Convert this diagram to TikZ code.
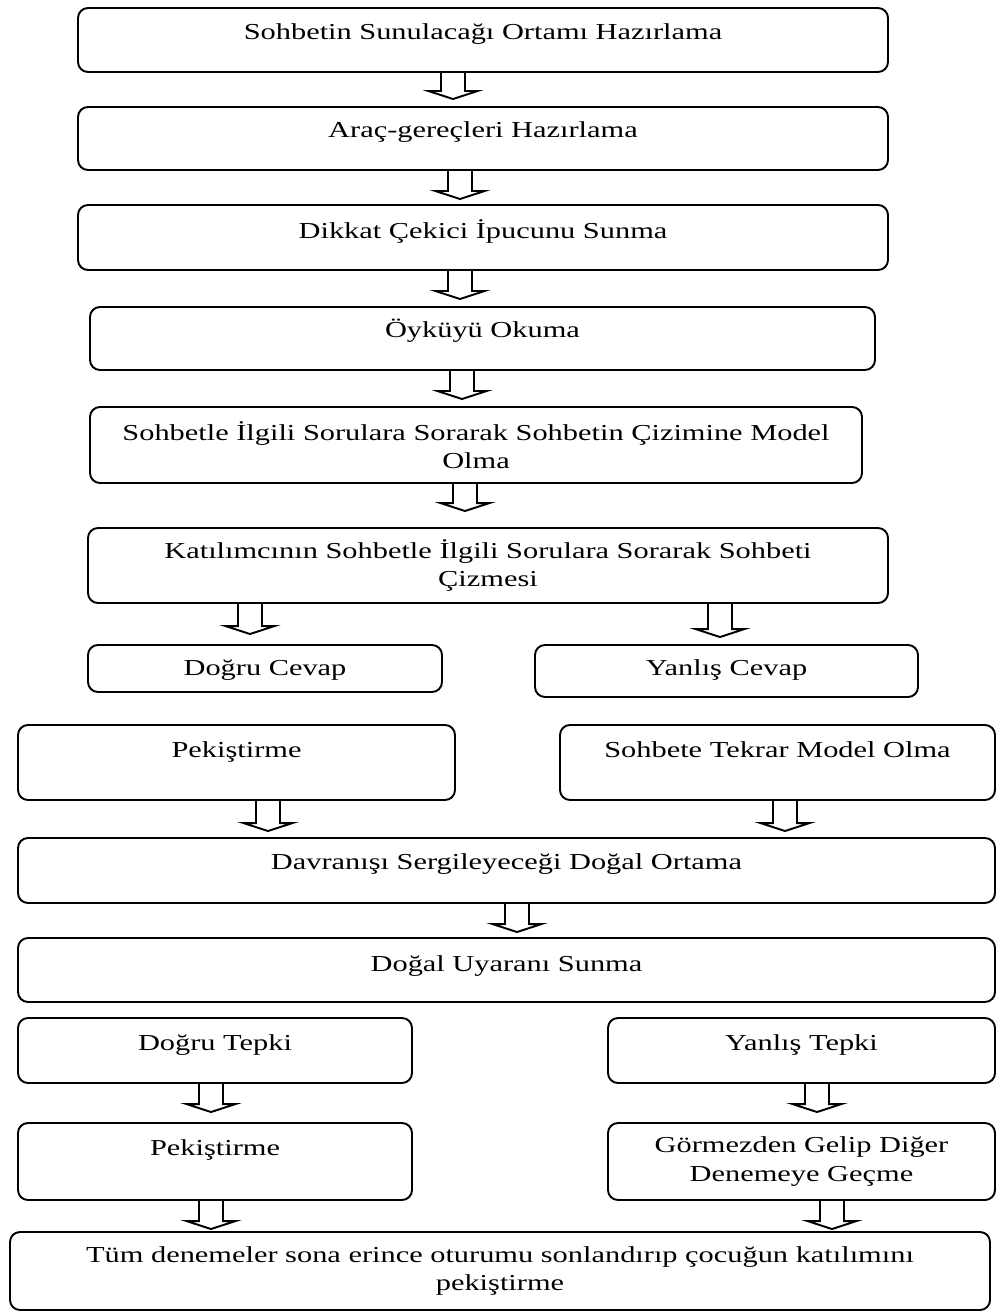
\documentclass[tikz,border=0pt]{standalone}
\usepackage{fontspec}
\setmainfont{Liberation Serif}[FakeStretch=1.33]
\usepackage{tikz}
\usetikzlibrary{calc}

% hollow block arrow: [gap] {x} {from} {to}
\newcommand{\flowdown}[4][0.12]{%
  \draw[hollow] let \p1=(#3.south), \p2=(#4.north) in
    ({(#2-0.24)*1cm},\y1) -- ({(#2-0.24)*1cm},{\y2+(#1+0.16)*1cm})
    -- ({(#2-0.49)*1cm},{\y2+(#1+0.16)*1cm}) -- ({#2*1cm},{\y2+#1*1cm})
    -- ({(#2+0.49)*1cm},{\y2+(#1+0.16)*1cm}) -- ({(#2+0.24)*1cm},{\y2+(#1+0.16)*1cm})
    -- ({(#2+0.24)*1cm},\y1);}

\begin{document}
\begin{tikzpicture}[
            stepbox/.style={draw, line width=1.1pt, rounded corners=0.2cm, align=center, inner xsep=0pt, font=\fontsize{13pt}{16pt}\selectfont},
            oneline/.style 2 args={text height=#1cm, text depth=#2cm, inner ysep=0pt},
            hollow/.style={line width=1.1pt, line join=miter}
        ]
        \useasboundingbox (0,0) rectangle (19.96,-26.28);

        % Preparation
        \node[stepbox, minimum width=16.2cm, oneline={0.64}{0.64}] (prep) at (9.66,-0.80) {Sohbetin Sunulacağı Ortamı Hazırlama};
        \node[stepbox, minimum width=16.2cm, oneline={0.62}{0.64}] (tools) at (9.66,-2.77) {Araç-gereçleri Hazırlama};
        \node[stepbox, minimum width=16.2cm, oneline={0.68}{0.62}] (cue) at (9.66,-4.75) {Dikkat Çekici İpucunu Sunma};
        \node[stepbox, minimum width=15.7cm, oneline={0.62}{0.64}] (story) at (9.65,-6.77) {Öyküyü Okuma};
        \node[stepbox, minimum width=15.44cm, minimum height=1.52cm] (model) at (9.52,-8.9) {Sohbetle İlgili Sorulara Sorarak Sohbetin Çizimine Model\\Olma};
        \node[stepbox, minimum width=16.0cm, minimum height=1.5cm] (child) at (9.76,-11.31) {Katılımcının Sohbetle İlgili Sorulara Sorarak Sohbeti\\Çizmesi};

        % Answers
        \node[stepbox, minimum width=7.08cm, oneline={0.6}{0.34}] (right) at (5.3,-13.37) {Doğru Cevap};
        \node[stepbox, minimum width=7.66cm, oneline={0.6}{0.44}] (wrong) at (14.53,-13.42) {Yanlış Cevap};
        \node[stepbox, minimum width=8.74cm, oneline={0.64}{0.86}] (reinf) at (4.73,-15.25) {Pekiştirme};
        \node[stepbox, minimum width=8.7cm, oneline={0.64}{0.86}] (remodel) at (15.55,-15.25) {Sohbete Tekrar Model Olma};

        % Natural setting
        \node[stepbox, minimum width=19.54cm, oneline={0.62}{0.68}] (natural) at (10.13,-17.41) {Davranışı Sergileyeceği Doğal Ortama};
        \node[stepbox, minimum width=19.54cm, oneline={0.66}{0.62}] (stimulus) at (10.13,-19.4) {Doğal Uyaranı Sunma};

        % Responses
        \node[stepbox, minimum width=7.88cm, oneline={0.64}{0.66}] (rresp) at (4.3,-21.01) {Doğru Tepki};
        \node[stepbox, minimum width=7.74cm, oneline={0.64}{0.66}] (wresp) at (16.03,-21.01) {Yanlış Tepki};
        \node[stepbox, minimum width=7.88cm, oneline={0.64}{0.9}] (reinf2) at (4.3,-23.23) {Pekiştirme};
        \node[stepbox, minimum width=7.74cm, minimum height=1.54cm] (ignore) at (16.03,-23.23) {Görmezden Gelip Diğer\\Denemeye Geçme};
        \node[stepbox, minimum width=19.6cm, minimum height=1.56cm] (finish) at (10.0,-25.42) {Tüm denemeler sona erince oturumu sonlandırıp çocuğun katılımını\\pekiştirme};

        % Arrows
        \flowdown[0.14]{9.06}{prep}{tools}
        \flowdown[0.1]{9.2}{tools}{cue}
        \flowdown[0.14]{9.2}{cue}{story}
        \flowdown[0.14]{9.24}{story}{model}
        \flowdown[0.32]{9.3}{model}{child}
        \flowdown[0.2]{5.0}{child}{right}
        \flowdown[0.14]{14.4}{child}{wrong}
        \flowdown{5.36}{reinf}{natural}
        \flowdown{15.7}{remodel}{natural}
        \flowdown[0.1]{10.34}{natural}{stimulus}
        \flowdown[0.2]{4.22}{rresp}{reinf2}
        \flowdown[0.2]{16.34}{wresp}{ignore}
        \flowdown[0.04]{4.22}{reinf2}{finish}
        \flowdown[0.04]{16.64}{ignore}{finish}

        \end{tikzpicture}
\end{document}
